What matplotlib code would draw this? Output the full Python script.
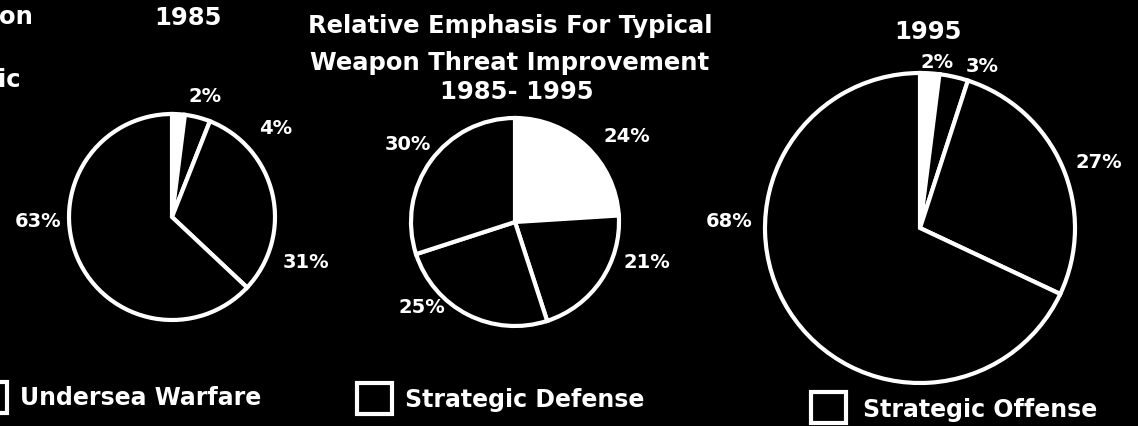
import matplotlib
matplotlib.use("Agg")
import matplotlib.pyplot as plt
from matplotlib.patches import Rectangle

W, H = 1138, 427

# shares per year (percent), clockwise from 12 o'clock
share_1985 = [2, 4, 31, 63]
share_mid = [24, 21, 25, 30]
share_1995 = [2, 3, 27, 68]

legend_names = ["Undersea Warfare", "Strategic Defense", "Strategic Offense"]

plt.rcParams['font.family'] = ['DejaVu Sans']
plt.rcParams['font.weight'] = 'bold'

fig = plt.figure(figsize=(W / 100, H / 100), dpi=100, facecolor='black')
ax = fig.add_axes([0, 0, 1, 1])
ax.set_facecolor('black')

# pie layout: centre (px, from top), radius, label positions (px, from top)
pies = [
    (share_1985, (172, 218), 103, [(205, 97), (276, 128), (306, 262), (38, 222)]),
    (share_mid, (515, 223), 104, [(627, 137), (647, 262), (422, 308), (408, 145)]),
    (share_1995, (920, 229), 155, [(937, 62), (982, 67), (1099, 163), (729, 222)]),
]

for vals, (cx, cy), r, lab_pos in pies:
    colors = ['white'] + ['black'] * (len(vals) - 1)
    ax.pie(vals, center=(cx, H - cy), radius=r, startangle=90, counterclock=False,
           colors=colors, wedgeprops=dict(edgecolor='white', linewidth=3))
    for v, (lx, ly) in zip(vals, lab_pos):
        ax.text(lx, H - ly, f"{v}%", color='white', fontsize=14, fontweight='bold',
                ha='center', va='center')

ax.set_xlim(0, W)
ax.set_ylim(0, H)
ax.set_aspect('auto')
ax.axis('off')

tkw = dict(color='white', fontweight='bold', fontsize=17.5, ha='center', va='center')
ax.text(188, H - 18, "1985", **tkw)
ax.text(510, H - 26, "Relative Emphasis For Typical", **tkw)
ax.text(510, H - 63, "Weapon Threat Improvement", **tkw)
ax.text(517, H - 92, "1985- 1995", **tkw)
ax.text(928, H - 32, "1995", **tkw)
ax.text(-1, H - 17, "on", color='white', fontsize=17.5, fontweight='bold', ha='left', va='center')
ax.text(-2, H - 80, "ic", color='white', fontsize=17.5, fontweight='bold', ha='left', va='center')

# legend boxes and labels
boxes = [(-28, 383), (357, 384), (811, 393)]
texts = [(20, 398), (405, 400), (863, 410)]
for name, (bx, by), (tx, ty) in zip(legend_names, boxes, texts):
    ax.add_patch(Rectangle((bx, H - by - 31), 35, 31, facecolor='none',
                           edgecolor='white', linewidth=3))
    ax.text(tx, H - ty, name, color='white', fontsize=17, fontweight='bold',
            ha='left', va='center')

fig.savefig('out.png', dpi=100, facecolor='black')
